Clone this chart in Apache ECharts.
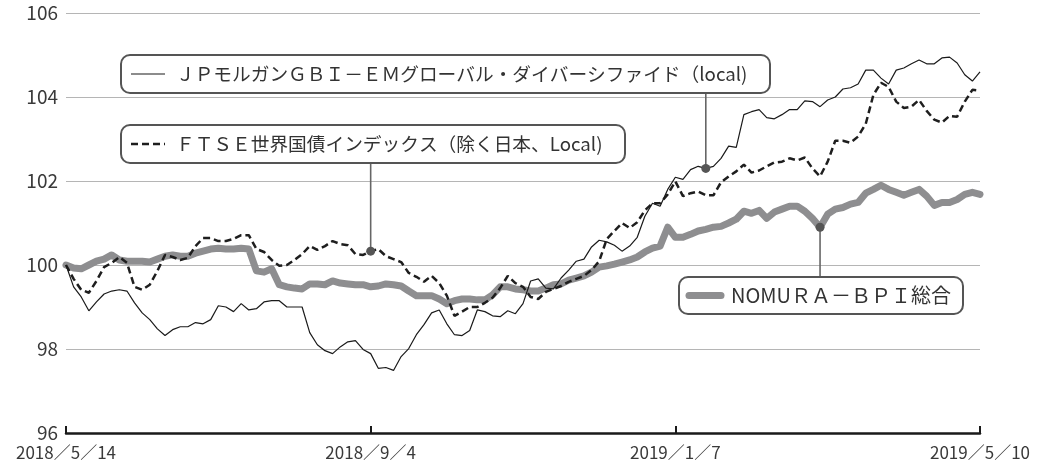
<!DOCTYPE html>
<html>
<head>
<meta charset="utf-8">
<script src="https://cdn.jsdelivr.net/npm/echarts@6/dist/echarts.min.js"></script>
<style>
  html, body { margin: 0; padding: 0; background: #fff; }
  #chart { width: 1039px; height: 470px; }
</style>
</head>
<body>
<div id="chart"></div>
<script>
// x axis: trading-day index 0..120, labelled at four dates
const tickLabels = ["2018／5／14", "2018／9／4", "2019／1／7", "2019／5／10"];

const jpMorgan = [
  100.0, 99.48, 99.24, 98.91, 99.12, 99.31, 99.38, 99.41, 99.38, 99.10,
  98.86, 98.70, 98.48, 98.32, 98.46, 98.53, 98.53, 98.63, 98.60, 98.70,
  99.03, 99.00, 98.89, 99.08, 98.93, 98.96, 99.12, 99.15, 99.15, 99.00,
  99.00, 99.00, 98.39, 98.10, 97.96, 97.89, 98.05, 98.17, 98.20, 97.99,
  97.89, 97.54, 97.56, 97.49, 97.82, 98.01, 98.34, 98.58, 98.86, 98.93,
  98.60, 98.34, 98.32, 98.44, 98.93, 98.89, 98.79, 98.77, 98.91, 98.84,
  99.08, 99.62, 99.67, 99.45, 99.43, 99.69, 99.88, 100.09, 100.14, 100.43,
  100.59, 100.55, 100.47, 100.33, 100.45, 100.66, 101.16, 101.47, 101.40, 101.80,
  102.09, 102.04, 102.27, 102.35, 102.30, 102.35, 102.54, 102.83, 102.80, 103.58,
  103.65, 103.70, 103.51, 103.48, 103.58, 103.70, 103.70, 103.91, 103.89, 103.77,
  103.93, 104.00, 104.19, 104.22, 104.31, 104.64, 104.64, 104.45, 104.31, 104.64,
  104.69, 104.79, 104.88, 104.79, 104.79, 104.93, 104.95, 104.81, 104.53, 104.38,
  104.60
];

const ftse = [
  100.0, 99.67, 99.41, 99.34, 99.62, 99.95, 100.05, 100.19, 100.05, 99.48,
  99.41, 99.53, 99.86, 100.24, 100.19, 100.12, 100.17, 100.45, 100.64, 100.64,
  100.57, 100.57, 100.62, 100.71, 100.71, 100.38, 100.31, 100.12, 99.98, 100.00,
  100.12, 100.26, 100.45, 100.36, 100.45, 100.57, 100.50, 100.47, 100.26, 100.24,
  100.33, 100.38, 100.21, 100.14, 100.07, 99.81, 99.72, 99.60, 99.74, 99.57,
  99.27, 98.79, 98.89, 99.00, 99.00, 99.10, 99.22, 99.45, 99.74, 99.57,
  99.48, 99.24, 99.19, 99.36, 99.43, 99.50, 99.60, 99.67, 99.74, 99.88,
  100.09, 100.62, 100.81, 101.00, 100.88, 101.02, 101.30, 101.47, 101.47, 101.68,
  101.99, 101.64, 101.71, 101.75, 101.66, 101.66, 101.97, 102.11, 102.23, 102.39,
  102.20, 102.25, 102.35, 102.44, 102.46, 102.54, 102.49, 102.56, 102.30, 102.11,
  102.46, 102.96, 102.96, 102.91, 103.06, 103.36, 104.05, 104.34, 104.24, 103.89,
  103.74, 103.77, 103.93, 103.67, 103.46, 103.39, 103.55, 103.53, 103.89, 104.17,
  104.15
];

const nomura = [
  100.0, 99.93, 99.91, 100.00, 100.09, 100.14, 100.24, 100.12, 100.09, 100.09,
  100.09, 100.07, 100.14, 100.21, 100.24, 100.21, 100.21, 100.28, 100.33, 100.38,
  100.40, 100.38, 100.38, 100.40, 100.38, 99.86, 99.83, 99.91, 99.53, 99.48,
  99.45, 99.43, 99.55, 99.55, 99.53, 99.62, 99.57, 99.55, 99.53, 99.53,
  99.48, 99.50, 99.55, 99.53, 99.50, 99.38, 99.27, 99.27, 99.27, 99.19,
  99.08, 99.15, 99.19, 99.19, 99.17, 99.17, 99.29, 99.48, 99.48, 99.43,
  99.41, 99.38, 99.38, 99.45, 99.53, 99.55, 99.64, 99.69, 99.74, 99.83,
  99.95, 99.98, 100.02, 100.07, 100.12, 100.19, 100.31, 100.40, 100.45, 100.90,
  100.66, 100.66, 100.73, 100.81, 100.85, 100.90, 100.92, 101.00, 101.09, 101.28,
  101.23, 101.30, 101.11, 101.26, 101.33, 101.40, 101.40, 101.28, 101.11, 100.90,
  101.21, 101.33, 101.37, 101.45, 101.49, 101.71, 101.80, 101.90, 101.80, 101.73,
  101.66, 101.73, 101.80, 101.64, 101.42, 101.49, 101.49, 101.56, 101.68, 101.73,
  101.68
];

// where each callout's leader line touches its series
const jpMarkIndex = 84;
const ftseMarkIndex = 40;
const nomuraMarkIndex = 99;

const FONT = '"Noto Sans CJK JP", "Noto Sans", sans-serif';
const lastIndex = jpMorgan.length - 1;

const chart = echarts.init(document.getElementById("chart"));

const option = {
  animation: false,
  grid: { left: 66, right: 59, top: 13, bottom: 37 },
  xAxis: {
    type: "value",
    min: 0,
    max: lastIndex,
    interval: lastIndex / 3,
    axisLine: { lineStyle: { color: "#1a1a1a", width: 2.5 } },
    axisTick: { inside: true, length: 7, lineStyle: { color: "#1a1a1a", width: 2 } },
    splitLine: { show: false },
    axisLabel: {
      fontFamily: FONT,
      fontSize: 17,
      color: "#3a3a3a",
      margin: 11,
      formatter: (v) => tickLabels[Math.round(v / (lastIndex / 3))] || "",
    },
  },
  yAxis: {
    type: "value",
    min: 96,
    max: 106,
    interval: 2,
    axisLine: { show: false },
    axisTick: { show: false },
    splitLine: { lineStyle: { color: "#b5b5b5", width: 1 } },
    axisLabel: { fontFamily: FONT, fontSize: 19, color: "#3a3a3a", margin: 8 },
  },
  series: [
    {
      name: "NOMURA",
      type: "line",
      data: nomura.map((v, i) => [i, v]),
      symbol: "none",
      lineStyle: { color: "#8e8e90", width: 7, cap: "round", join: "round" },
      z: 2,
    },
    {
      name: "FTSE",
      type: "line",
      data: ftse.map((v, i) => [i, v]),
      symbol: "none",
      lineStyle: { color: "#1e1e1e", width: 2.5, type: [7, 4] },
      z: 3,
    },
    {
      name: "JPM",
      type: "line",
      data: jpMorgan.map((v, i) => [i, v]),
      symbol: "none",
      lineStyle: { color: "#1a1a1a", width: 1.2 },
      z: 4,
    },
  ],
};

chart.setOption(option);

// callout boxes (layout only), leader lines go to the data points
function callout(box, sample, text, series, idx) {
  const p = chart.convertToPixel({ gridIndex: 0 }, [idx, series[idx]]);
  const cy = box.y + box.h / 2;
  const edgeY = p[1] < box.y ? box.y : box.y + box.h;
  return [
    {
      type: "line",
      shape: { x1: p[0], y1: p[1], x2: p[0], y2: edgeY },
      style: { stroke: "#666", lineWidth: 1.6 },
      z: 10,
    },
    {
      type: "circle",
      shape: { cx: p[0], cy: p[1], r: 4.5 },
      style: { fill: "#555" },
      z: 11,
    },
    {
      type: "rect",
      shape: { x: box.x, y: box.y, width: box.w, height: box.h, r: 9 },
      style: { fill: "#fff", stroke: "#555", lineWidth: 2 },
      z: 10,
    },
    {
      type: "line",
      shape: { x1: box.x + 10, y1: cy, x2: box.x + sample.len, y2: cy },
      style: sample.style,
      z: 11,
    },
    {
      type: "text",
      style: {
        x: box.x + sample.textX,
        y: cy,
        text: text,
        fontFamily: FONT,
        fontSize: sample.fontSize || 18.7,
        fill: "#333",
        verticalAlign: "middle",
      },
      z: 11,
    },
  ];
}

const graphics = []
  .concat(
    callout(
      { x: 121, y: 55, w: 649, h: 38 },
      { len: 44, textX: 55, style: { stroke: "#1a1a1a", lineWidth: 1.2 } },
      "ＪＰモルガンＧＢＩ－ＥＭグローバル・ダイバーシファイド（local)",
      jpMorgan,
      jpMarkIndex
    )
  )
  .concat(
    callout(
      { x: 121, y: 125, w: 504, h: 38 },
      { len: 44, textX: 55, style: { stroke: "#1e1e1e", lineWidth: 2.5, lineDash: [7, 4] } },
      "ＦＴＳＥ世界国債インデックス（除く日本、Local)",
      ftse,
      ftseMarkIndex
    )
  )
  .concat(
    callout(
      { x: 679, y: 277, w: 284, h: 37 },
      { len: 42, textX: 52, fontSize: 20, style: { stroke: "#8e8e90", lineWidth: 7, lineCap: "round" } },
      "NOMUＲＡ－ＢＰＩ総合",
      nomura,
      nomuraMarkIndex
    )
  );

chart.setOption({ graphic: { elements: graphics } });

window.addEventListener("resize", () => {
  chart.resize();
});
</script>
</body>
</html>
